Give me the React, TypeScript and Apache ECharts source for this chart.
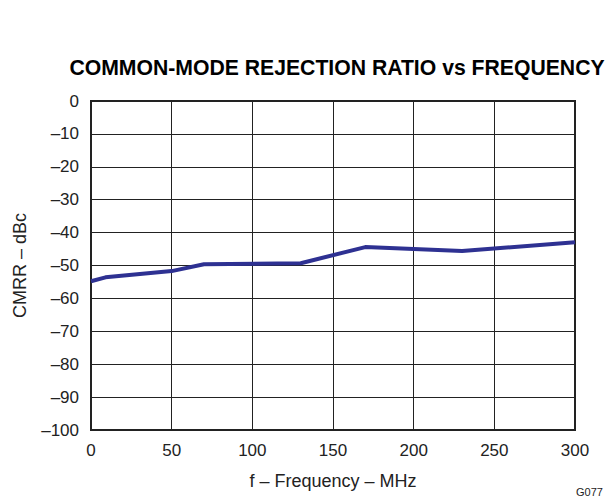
import React, { useEffect, useRef } from "react";
import * as echarts from "echarts";

const titleText = "COMMON-MODE REJECTION RATIO vs FREQUENCY";
const xAxisTitle = "f – Frequency – MHz";
const yAxisTitle = "CMRR – dBc";
const figureCode = "G077";

const freqMHz = [0, 9, 50, 70, 130, 170, 230, 300];
const cmrrDbc = [-54.8, -53.6, -51.7, -49.6, -49.3, -44.4, -45.6, -42.9];

const fmtTick = (v: number) => (v < 0 ? "–" + Math.abs(v) : String(v));

export default function App() {
  const ref = useRef<HTMLDivElement>(null);
  useEffect(() => {
    if (!ref.current) return;
    const chart = echarts.init(ref.current, undefined, { renderer: "svg" });
    const font = "Liberation Sans, Arial, Helvetica, sans-serif";
    chart.setOption({
      animation: false,
      backgroundColor: "#ffffff",
      title: {
        text: titleText,
        left: 332,
        top: 52,
        textAlign: "center",
        textStyle: { fontFamily: font, fontSize: 21.2, fontWeight: "bold", color: "#000" },
      },
      grid: {
        left: 91,
        right: 35,
        top: 101,
        bottom: 70,
        show: true,
        borderColor: "#222",
        borderWidth: 2,
      },
      xAxis: {
        type: "value",
        min: 0,
        max: 300,
        interval: 50,
        name: xAxisTitle,
        nameLocation: "middle",
        nameGap: 42,
        nameTextStyle: { fontFamily: font, fontSize: 18, color: "#222" },
        axisLine: { show: true, lineStyle: { color: "#222", width: 2 } },
        axisTick: { show: false },
        axisLabel: { fontFamily: font, fontSize: 17, color: "#222", margin: 12, formatter: fmtTick },
        splitLine: { show: true, lineStyle: { color: "#222", width: 1 } },
      },
      yAxis: {
        type: "value",
        min: -100,
        max: 0,
        interval: 10,
        name: yAxisTitle,
        nameLocation: "middle",
        nameGap: 62,
        nameRotate: 90,
        nameTextStyle: { fontFamily: font, fontSize: 18, color: "#222" },
        axisLine: { show: true, lineStyle: { color: "#222", width: 2 } },
        axisTick: { show: false },
        axisLabel: { fontFamily: font, fontSize: 17, color: "#222", margin: 12, formatter: fmtTick },
        splitLine: { show: true, lineStyle: { color: "#222", width: 1 } },
      },
      series: [
        {
          type: "line",
          data: freqMHz.map((f, i) => [f, cmrrDbc[i]]),
          showSymbol: false,
          lineStyle: { color: "#2e3192", width: 4 },
          itemStyle: { color: "#2e3192" },
        },
      ],
      graphic: [
        {
          type: "text",
          left: 576,
          top: 486,
          style: { text: figureCode, fontFamily: font, fontSize: 11, fill: "#222" },
        },
      ],
    });
    return () => chart.dispose();
  }, []);
  return <div ref={ref} style={{ width: 610, height: 500, position: "absolute", left: 0, top: 0 }} />;
}
